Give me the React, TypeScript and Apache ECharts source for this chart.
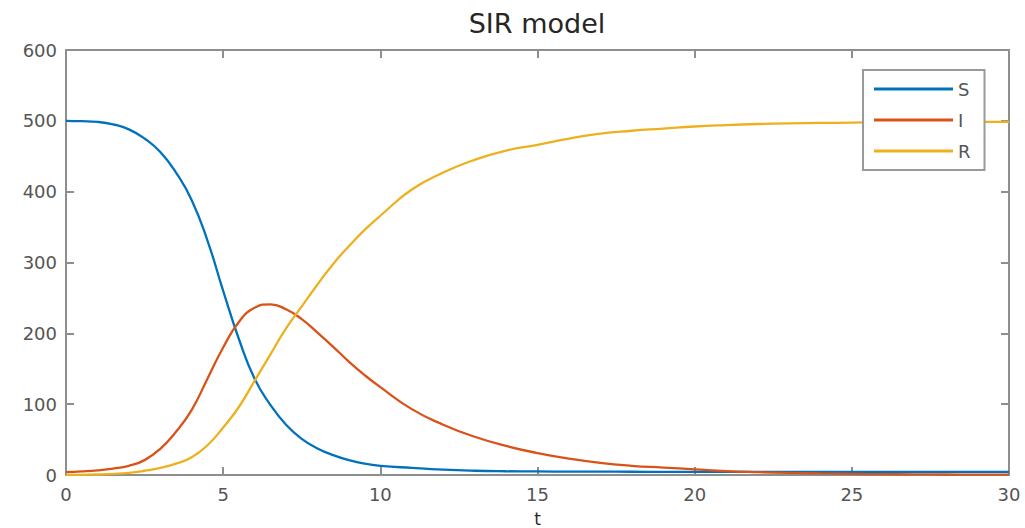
import React, { useEffect, useRef } from "react";
import * as echarts from "echarts";

const tValues = [0, 0.5, 1, 1.5, 2, 2.5, 3, 3.5, 4, 4.5, 5, 5.5, 6, 6.5, 7, 7.5, 8, 8.5, 9, 9.5, 10,
  11, 12, 13, 14, 15, 16, 17, 18, 19, 20, 21, 22, 23, 24, 25, 26, 27, 28, 29, 30];

const sValues = [500, 499.5, 498.5, 495, 488, 475, 456, 427, 388, 331, 260, 192, 136, 99, 71, 51, 37.5, 28, 21, 16, 13,
  10, 7.5, 6, 5.3, 5, 4.8, 4.7, 4.6, 4.5, 4.5, 4.5, 4.5, 4.5, 4.5, 4.5, 4.5, 4.5, 4.5, 4.5, 4.5];

const iValues = [4, 5, 6.5, 9, 13, 21, 37, 61, 92, 136, 180, 216, 236, 241, 234, 220, 201, 181, 160, 141, 124,
  93, 71, 54, 41, 31, 23, 17, 13, 10.5, 8, 5.5, 4, 3, 2.2, 1.6, 1.2, 0.9, 0.7, 0.5, 0.4];

const rValues = [0, 0.3, 0.7, 1.5, 3, 6, 10, 16, 25, 42, 67, 96, 133, 170, 207, 238, 269, 298, 323, 346, 366,
  403, 427, 445, 458, 466, 475, 482, 486, 489, 492, 494, 495.5, 496.5, 497, 497.5, 498, 498, 498.5, 498.5, 498.5];

const seriesNames = ["S", "I", "R"];
const seriesColors = ["#0072BD", "#D95319", "#EDB120"];
const xTicks = { min: 0, max: 30, interval: 5 };
const yTicks = { min: 0, max: 600, interval: 100 };
const titleText = "SIR model";
const xLabel = "t";

const FONT = "DejaVu Sans";
const AXIS_COLOR = "#8e8e8e";
const LABEL_COLOR = "#555";

export default function App() {
  const ref = useRef<HTMLDivElement>(null);

  useEffect(() => {
    if (!ref.current) return;
    const chart = echarts.init(ref.current, undefined, { renderer: "svg" });
    const valuesList = [sValues, iValues, rValues];

    const axisLine = { show: true, onZero: false, lineStyle: { color: AXIS_COLOR, width: 2 } };
    const axisTick = { show: true, inside: true, length: 8, lineStyle: { color: AXIS_COLOR, width: 2 } };

    chart.setOption({
      animation: false,
      textStyle: { fontFamily: FONT },
      grid: { left: 66, right: 16, top: 50, bottom: 53, containLabel: false, outerBoundsMode: "none" },
      graphic: [
        {
          type: "text",
          x: 537,
          y: 23,
          style: {
            text: titleText,
            font: `normal 27px "${FONT}"`,
            fill: "#262626",
            align: "center",
            verticalAlign: "middle",
          },
        },
      ],
      legend: {
        data: seriesNames,
        orient: "vertical",
        left: 863,
        top: 70,
        padding: [9, 14, 9, 11],
        itemGap: 11,
        itemWidth: 79,
        itemHeight: 3,
        icon: "rect",
        borderColor: "#999",
        borderWidth: 2,
        backgroundColor: "#fff",
        textStyle: { fontSize: 18, color: LABEL_COLOR, lineHeight: 20, fontFamily: FONT },
      },
      xAxis: [
        {
          type: "value",
          position: "bottom",
          min: xTicks.min,
          max: xTicks.max,
          interval: xTicks.interval,
          axisLine,
          axisTick,
          splitLine: { show: false },
          axisLabel: { fontSize: 18, color: LABEL_COLOR, margin: 10, fontFamily: FONT },
          name: xLabel,
          nameLocation: "middle",
          nameGap: 35,
          nameTextStyle: { fontSize: 17, lineHeight: 17, color: "#262626", fontFamily: FONT },
        },
        {
          type: "value",
          position: "top",
          min: xTicks.min,
          max: xTicks.max,
          interval: xTicks.interval,
          axisLine,
          axisTick,
          splitLine: { show: false },
          axisLabel: { show: false },
        },
      ],
      yAxis: [
        {
          type: "value",
          position: "left",
          min: yTicks.min,
          max: yTicks.max,
          interval: yTicks.interval,
          axisLine,
          axisTick,
          splitLine: { show: false },
          axisLabel: { fontSize: 18, color: LABEL_COLOR, margin: 9, fontFamily: FONT },
        },
        {
          type: "value",
          position: "right",
          min: yTicks.min,
          max: yTicks.max,
          interval: yTicks.interval,
          axisLine,
          axisTick,
          splitLine: { show: false },
          axisLabel: { show: false },
        },
      ],
      series: seriesNames.map((name, k) => ({
        name,
        type: "line",
        xAxisIndex: 0,
        yAxisIndex: 0,
        showSymbol: false,
        symbol: "none",
        smooth: 0.5,
        color: seriesColors[k],
        lineStyle: { width: 2.3, color: seriesColors[k] },
        data: tValues.map((t, i) => [t, valuesList[k][i]]),
      })),
    });

    return () => chart.dispose();
  }, []);

  return (
    <div
      ref={ref}
      style={{ position: "fixed", left: 0, top: 0, width: 1025, height: 528, background: "#fff" }}
    />
  );
}
